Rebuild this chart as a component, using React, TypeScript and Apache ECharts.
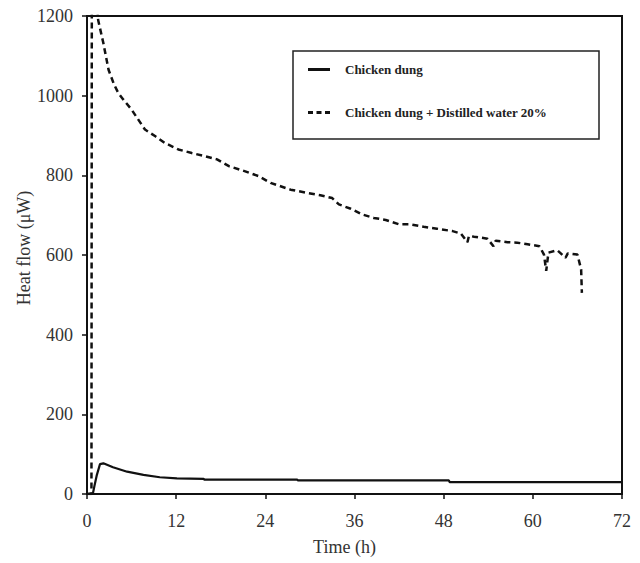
import React, { useEffect, useRef } from "react";
import * as echarts from "echarts";

const xTicks = [0, 12, 24, 36, 48, 60, 72];
const yTicks = [0, 200, 400, 600, 800, 1000, 1200];

const seriesNames = ["Chicken dung", "Chicken dung + Distilled water 20%"];

const dungTime = [0, 0.8, 1.0, 1.3, 1.75, 2.2, 3.5, 5.4, 7.6, 9.8, 12.1, 15.7, 15.8, 28.3, 28.4, 48.7, 48.8, 72];
const dungFlow = [0, 2, 20, 46, 75, 77, 67, 56, 48, 42, 39, 38, 36, 36, 34, 34, 30, 30];

const waterTime = [0, 0.6, 0.65, 1.3, 1.5, 2.2, 2.9, 3.6, 4.2, 4.9, 6.0, 7.8, 9.2, 10.5, 12.3, 14.1, 15.9, 17.5, 19.1, 21.3, 23.1, 24.7, 27.4, 29.6, 31.4, 33.0, 33.9, 35.5, 37.0, 38.6, 40.2, 42.0, 43.5, 45.3, 47.1, 49.2, 50.3, 51.2, 51.4, 52.1, 53.9, 54.7, 55.0, 56.6, 57.9, 59.3, 60.9, 61.5, 61.8, 62.1, 63.3, 64.4, 64.7, 66.0, 66.5, 66.6];
const waterFlow = [0, 0, 1250, 1250, 1190, 1132, 1065, 1030, 1007, 990, 965, 915, 898, 881, 865, 856, 848, 840, 823, 810, 798, 781, 764, 756, 750, 743, 727, 716, 702, 693, 688, 677, 677, 671, 666, 660, 654, 632, 648, 646, 641, 622, 636, 632, 631, 627, 622, 601, 560, 606, 612, 593, 604, 601, 564, 505];

const pairs = (xs: number[], ys: number[]) => xs.map((x, i) => [x, ys[i]]);

const FONT = "'Liberation Serif', 'Times New Roman', serif";

const SOLID_ICON = "path://M0,0L22,0L22,3L0,3Z";
const DASH_ICON = "path://M0,0L5,0L5,3L0,3ZM8.5,0L13.5,0L13.5,3L8.5,3ZM17,0L22,0L22,3L17,3Z";

export default function App() {
  const ref = useRef<HTMLDivElement>(null);
  useEffect(() => {
    document.body.style.margin = "0";
    if (!ref.current) return;
    const chart = echarts.init(ref.current, undefined, { renderer: "svg" });
    chart.setOption({
      animation: false,
      backgroundColor: "#ffffff",
      grid: {
        left: 87,
        right: 18,
        top: 16,
        bottom: 69,
        show: true,
        borderColor: "#111",
        borderWidth: 2,
      },
      xAxis: {
        type: "value",
        min: xTicks[0],
        max: xTicks[xTicks.length - 1],
        interval: 12,
        name: "Time (h)",
        nameLocation: "middle",
        nameGap: 44,
        nameMoveOverlap: false,
        nameTextStyle: { fontFamily: FONT, fontSize: 18, color: "#333", padding: [0, 20, 0, 0] },
        axisLine: { lineStyle: { color: "#111", width: 2 } },
        axisTick: { inside: false, length: 5, lineStyle: { color: "#111", width: 1.5 } },
        axisLabel: { fontFamily: FONT, fontSize: 18, color: "#333", margin: 18, formatter: (v: number) => String(v) },
        splitLine: { show: false },
      },
      yAxis: {
        type: "value",
        min: yTicks[0],
        max: yTicks[yTicks.length - 1],
        interval: 200,
        name: "Heat flow (\u03bcW)",
        nameLocation: "middle",
        nameGap: 54,
        nameMoveOverlap: false,
        nameRotate: 90,
        nameTextStyle: { fontFamily: FONT, fontSize: 18, color: "#333", padding: [0, 0, 0, 14] },
        axisLine: { lineStyle: { color: "#111", width: 2 } },
        axisTick: { inside: false, length: 5, lineStyle: { color: "#111", width: 1.5 } },
        axisLabel: { fontFamily: FONT, fontSize: 18, color: "#333", margin: 14, formatter: (v: number) => String(v) },
        splitLine: { show: false },
      },
      legend: {
        orient: "vertical",
        left: 308,
        top: 63,
        padding: 0,
        itemGap: 30,
        itemWidth: 22,
        itemHeight: 3,
        data: [
          { name: seriesNames[0], icon: SOLID_ICON },
          { name: seriesNames[1], icon: DASH_ICON },
        ],
        textStyle: { fontFamily: FONT, fontSize: 13, fontWeight: "bold", color: "#222", padding: [0, 0, 0, 10] },
      },
      graphic: [
        {
          type: "rect",
          shape: { x: 293, y: 51, width: 306, height: 88 },
          style: { fill: "none", stroke: "#222", lineWidth: 1.5 },
          z: 10,
        },
      ],
      series: [
        {
          name: seriesNames[0],
          type: "line",
          data: pairs(dungTime, dungFlow),
          showSymbol: false,
          symbol: "none",
          lineStyle: { color: "#111", width: 2.2, type: "solid" },
          itemStyle: { color: "#111" },
          clip: true,
        },
        {
          name: seriesNames[1],
          type: "line",
          data: pairs(waterTime, waterFlow),
          showSymbol: false,
          symbol: "none",
          lineStyle: { color: "#111", width: 2.5, type: [6, 4] },
          itemStyle: { color: "#111" },
          clip: true,
        },
      ],
    });
    return () => chart.dispose();
  }, []);
  return <div ref={ref} style={{ width: 640, height: 563 }} />;
}
